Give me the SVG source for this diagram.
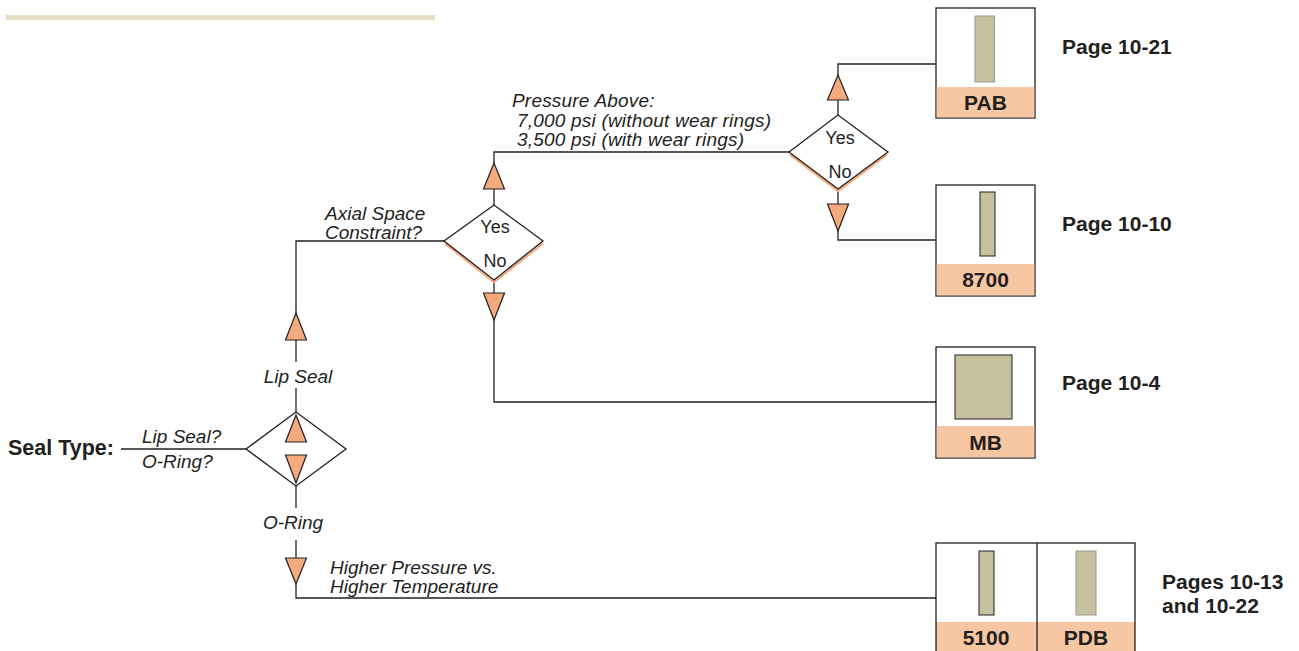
<svg xmlns="http://www.w3.org/2000/svg" width="1299" height="651" viewBox="0 0 1299 651">
<style>
.ln{fill:none;stroke:#231f20;stroke-width:1.3}
.tri{fill:#f4aa7c;stroke:#231f20;stroke-width:1.2}
.dia{fill:#fff;stroke:#231f20;stroke-width:1.3}
.sh{fill:none;stroke:#f4aa7c;stroke-width:2.2}
.box{fill:#fff;stroke:#231f20;stroke-width:1.3}
.band{fill:#f7c6a2}
.seal{fill:#c6c29f;stroke:#231f20;stroke-width:1}
.seal2{fill:#c6c29f;stroke:#9a9a8a;stroke-width:1}
.it{font-family:"Liberation Sans",Arial,sans-serif;font-style:italic;font-size:19px;fill:#231f20}
.it2{font-family:"Liberation Sans",Arial,sans-serif;font-style:italic;font-size:19px;letter-spacing:0.2px;fill:#231f20}
.yn{font-family:"Liberation Sans",Arial,sans-serif;font-size:18px;fill:#231f20;text-anchor:middle}
.bl{font-family:"Liberation Sans",Arial,sans-serif;font-weight:bold;font-size:21px;fill:#231f20;text-anchor:middle}
.pg{font-family:"Liberation Sans",Arial,sans-serif;font-weight:bold;font-size:21px;fill:#231f20}
</style>
<rect x="6" y="15" width="429" height="5" fill="#e6dec4"/>

<g id="connectors">
  <polyline class="ln" points="121,449 246,449"/>
  <polyline class="ln" points="296,412 296,388"/>
  <polyline class="ln" points="296,362 296,241 444,241"/>
  <polyline class="ln" points="494,205 494,152 789,152"/>
  <polyline class="ln" points="838,115 838,64 936,64"/>
  <polyline class="ln" points="838,189 838,240 936,240"/>
  <polyline class="ln" points="494,280 494,402 936,402"/>
  <polyline class="ln" points="296,486 296,508"/>
  <polyline class="ln" points="296,540 296,598 936,598"/>
  <polygon class="tri" points="296,313 285.5,340 306.5,340"/>
  <polygon class="tri" points="494,163 483.5,189 504.5,189"/>
  <polygon class="tri" points="838,75 827.5,100 848.5,100"/>
  <polygon class="tri" points="838,231 827.5,204 848.5,204"/>
  <polygon class="tri" points="494,320 483.5,293 504.5,293"/>
  <polygon class="tri" points="296,584 285.5,558 306.5,558"/>
</g>

<g id="seal-type">
  <text x="8" y="455" font-family="Liberation Sans,Arial,sans-serif" font-weight="bold" font-size="21.5" fill="#231f20">Seal Type:</text>
  <text class="it" x="142" y="443">Lip Seal?</text>
  <text class="it" x="142" y="468">O-Ring?</text>
  <polygon class="dia" points="246,449 296,412 346,449 296,486"/>
  <polygon class="tri" points="296,415 285.5,442 306.5,442"/>
  <polygon class="tri" points="296,483 285.5,455 306.5,455"/>
  <text class="it" x="298" y="383" text-anchor="middle">Lip Seal</text>
  <text class="it" x="293" y="529" text-anchor="middle">O-Ring</text>
</g>

<g id="axial">
  <text class="it" x="325" y="220">Axial Space</text>
  <text class="it" x="325" y="239">Constraint?</text>
  <polyline class="sh" points="445,243.5 494,282 543,243.5"/>
  <polygon class="dia" points="444,241 494,205 543,241 494,280"/>
  <text class="yn" x="495" y="233">Yes</text>
  <text class="yn" x="495" y="267">No</text>
</g>

<g id="pressure">
  <text class="it2" x="512" y="107">Pressure Above:</text>
  <text class="it2" x="517" y="127">7,000 psi (without wear rings)</text>
  <text class="it2" x="517" y="146">3,500 psi (with wear rings)</text>
  <polyline class="sh" points="790,154.5 838,191 887,154.5"/>
  <polygon class="dia" points="789,152 838,115 888,152 838,189"/>
  <text class="yn" x="840" y="144">Yes</text>
  <text class="yn" x="840" y="178">No</text>
</g>

<g id="pab">
  <rect class="box" x="936" y="8" width="99" height="110"/>
  <rect class="band" x="936.7" y="87" width="97.6" height="30.3"/>
  <rect class="seal2" x="975" y="16" width="19.5" height="66"/>
  <text class="bl" x="985.5" y="110">PAB</text>
  <text class="pg" x="1062" y="54">Page 10-21</text>
</g>

<g id="b8700">
  <rect class="box" x="936" y="185" width="99" height="111"/>
  <rect class="band" x="936.7" y="264" width="97.6" height="31.3"/>
  <rect class="seal" x="980" y="192" width="15" height="64"/>
  <text class="bl" x="985.5" y="287">8700</text>
  <text class="pg" x="1062" y="231">Page 10-10</text>
</g>

<g id="mb">
  <rect class="box" x="936" y="347" width="99" height="111"/>
  <rect class="band" x="936.7" y="426" width="97.6" height="31.3"/>
  <rect class="seal" x="955" y="355" width="57" height="64"/>
  <text class="bl" x="985.5" y="450">MB</text>
  <text class="pg" x="1062" y="390">Page 10-4</text>
</g>

<g id="b5100-pdb">
  <rect class="band" x="936" y="622" width="199" height="35"/>
  <rect class="box" x="936" y="543" width="199" height="115" style="fill:none"/>
  <line class="ln" x1="1037" y1="543" x2="1037" y2="651"/>
  <rect class="seal" x="979" y="551" width="15" height="64"/>
  <rect class="seal2" x="1076" y="551" width="20" height="64"/>
  <text class="bl" x="986" y="645">5100</text>
  <text class="bl" x="1086" y="645">PDB</text>
  <text class="pg" x="1162" y="589">Pages 10-13</text>
  <text class="pg" x="1162" y="613">and 10-22</text>
</g>

<g id="higher">
  <text class="it" x="330" y="574">Higher Pressure vs.</text>
  <text class="it" x="330" y="593">Higher Temperature</text>
</g>
</svg>
